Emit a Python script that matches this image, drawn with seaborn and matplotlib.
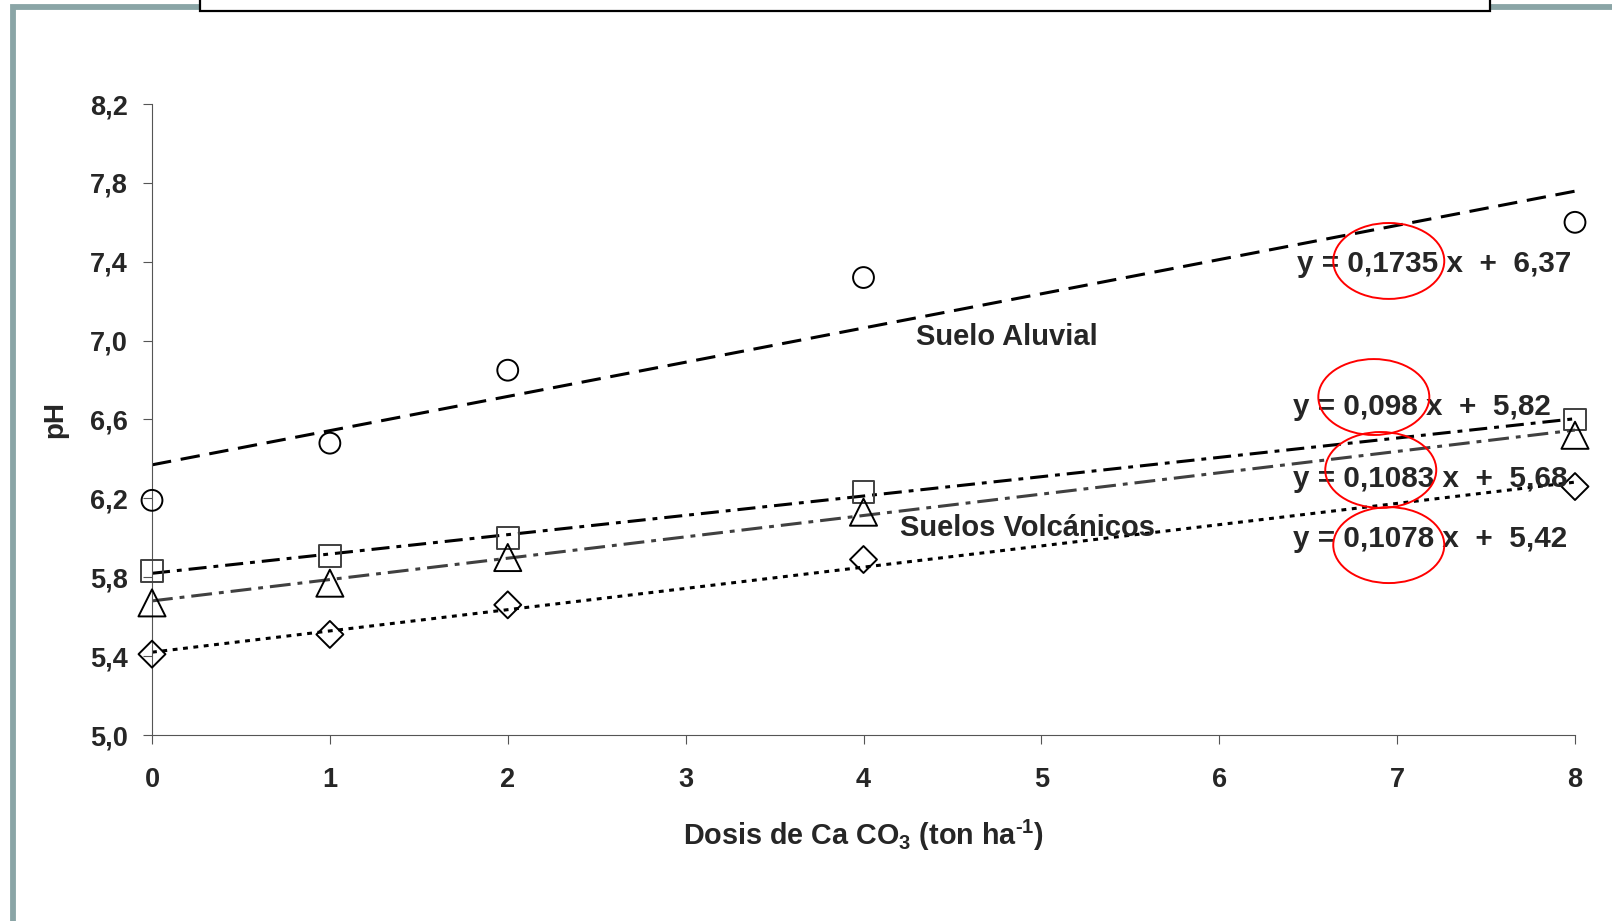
import numpy as np
import pandas as pd
import seaborn as sns
import matplotlib
matplotlib.use("Agg")
import matplotlib.pyplot as plt
from matplotlib.patches import Ellipse, Rectangle
from matplotlib.ticker import FuncFormatter

# Doses of CaCO3 (ton/ha)
dosis = [0, 1, 2, 4, 8]

# Measured pH per soil
ph_aluvial = [6.19, 6.48, 6.85, 7.32, 7.60]
ph_volc_a = [5.83, 5.91, 6.00, 6.23, 6.60]
ph_volc_b = [5.67, 5.77, 5.90, 6.13, 6.52]
ph_volc_c = [5.41, 5.51, 5.66, 5.89, 6.26]

# Linear fits (slope, intercept)
fit_slopes = [0.1735, 0.098, 0.1083, 0.1078]
fit_intercepts = [6.37, 5.82, 5.68, 5.42]
fit_labels = ["0,1735", "0,098", "0,1083", "0,1078"]
fit_consts = ["6,37", "5,82", "5,68", "5,42"]

y_ticks = [5.0, 5.4, 5.8, 6.2, 6.6, 7.0, 7.4, 7.8, 8.2]
x_ticks = [0, 1, 2, 3, 4, 5, 6, 7, 8]

sns.set_style("ticks")
plt.rcParams["font.family"] = ["Liberation Sans", "DejaVu Sans"]
plt.rcParams["font.weight"] = "bold"
plt.rcParams["mathtext.fontset"] = "custom"
plt.rcParams["mathtext.rm"] = "Liberation Sans:bold"
plt.rcParams["mathtext.bf"] = "Liberation Sans:bold"
plt.rcParams["mathtext.default"] = "bf"
plt.rcParams["lines.scale_dashes"] = False

fig = plt.figure(figsize=(16.12, 9.21), dpi=100)
fig.patch.set_facecolor("white")
ax = fig.add_axes([152 / 1612, 1 - 735 / 921, (1575 - 152) / 1612, (735 - 104) / 921])
ax.set_facecolor("white")

series = [
    (ph_aluvial, "o", 225, "black"),
    (ph_volc_a, "s", 250, "#404040"),
    (ph_volc_b, "^", 380, "black"),
    (ph_volc_c, "D", 188, "black"),
]
line_styles = [
    ("black", (0, (14, 7))),
    ("black", (0, (13, 5, 3.5, 5))),
    ("#404040", (0, (15, 5, 3.5, 5))),
    ("black", (0, (3.5, 4))),
]

xs = np.array([0.0, 8.0])
for (vals, mk, s, ec), (lc, ls), m, b in zip(series, line_styles, fit_slopes, fit_intercepts):
    df = pd.DataFrame({"dosis": dosis, "ph": vals})
    sns.scatterplot(data=df, x="dosis", y="ph", marker=mk, s=s, color="none",
                    edgecolor=ec, linewidth=1.4, ax=ax, clip_on=False, zorder=3)
    ax.collections[-1].set_facecolor("none")
    ax.plot(xs, m * xs + b, color=lc, linestyle=ls, linewidth=2.2, zorder=2)

ax.set_xlim(0, 8)
ax.set_ylim(5.0, 8.2)
ax.set_xticks(x_ticks)
ax.set_yticks(y_ticks)
ax.yaxis.set_major_formatter(FuncFormatter(lambda v, p: f"{v:.1f}".replace(".", ",")))
ax.tick_params(axis="both", labelsize=19.5, length=6.5, width=0.8, color="#555555")
ax.tick_params(axis="y", pad=11)
ax.tick_params(axis="x", pad=16.5)
for lab in ax.get_xticklabels() + ax.get_yticklabels():
    lab.set_fontweight("bold")

for side in ["top", "right"]:
    ax.spines[side].set_visible(False)
for side in ["left", "bottom"]:
    ax.spines[side].set_color("#555555")
    ax.spines[side].set_linewidth(0.8)

ax.set_xlabel(r"Dosis de Ca CO$_{3}$ (ton ha$^{\text{-}1}$)", fontsize=20.7, fontweight="bold")
ax.set_ylabel("pH", fontsize=20, fontweight="bold")
ax.xaxis.set_label_coords(0.5, -0.131)
ax.yaxis.set_label_coords(-0.059, 0.5)

# Soil group labels
ax.text(4.806, 7.018, "Suelo Aluvial", fontsize=21, fontweight="bold", ha="center", va="center")
ax.text(4.924, 6.05, "Suelos Volcánicos", fontsize=21, fontweight="bold", ha="center", va="center")

# Fit equations with highlighted slopes
eq_pos = [(6.436, 7.39), (6.414, 6.662), (6.414, 6.298), (6.414, 5.994)]
ell_pos = [(6.953, 7.404), (6.869, 6.714), (6.908, 6.344), (6.953, 5.963)]
for (ex, ey), (cx, cy), sl, c in zip(eq_pos, ell_pos, fit_labels, fit_consts):
    ax.text(ex, ey, f"y = {sl} x  +  {c}", fontsize=21.3, fontweight="bold",
            ha="left", va="center", zorder=4)
    ax.add_patch(Ellipse((cx, cy), 0.624, 0.385, fill=False, edgecolor="red",
                         linewidth=1.4, clip_on=False, zorder=5))

# Slide frame and title box
W, H = 1612, 921
fig.add_artist(Rectangle((12.5 / W, -0.0015), 1.05, (921 - 7) / H + 0.0015,
                         transform=fig.transFigure, fill=False,
                         edgecolor="#8aa5a6", linewidth=4.2))
fig.add_artist(Rectangle((200 / W, 1 - 11 / H), (1490 - 200) / W, 0.05,
                         transform=fig.transFigure, facecolor="white",
                         edgecolor="black", linewidth=1.6, zorder=10))

fig.savefig("out.png", dpi=100, facecolor="white")
